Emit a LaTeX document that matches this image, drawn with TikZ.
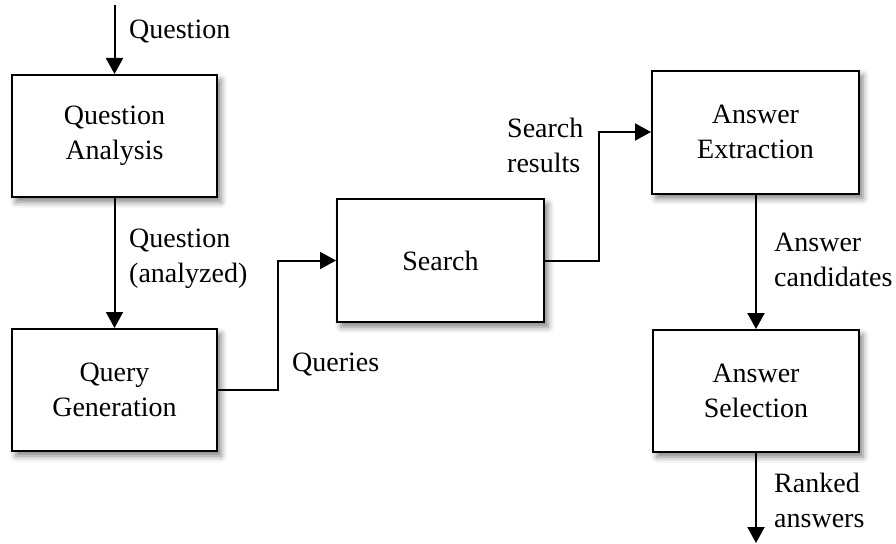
\documentclass[tikz,border=0pt]{standalone}
\usepackage{fontspec}
\setmainfont{Liberation Serif}
\usetikzlibrary{arrows.meta,shadows.blur}
\tikzset{
  box/.style={draw=black, line width=2pt, fill=white, minimum width=205pt, minimum height=122pt,
    align=center, font=\fontsize{28}{35}\selectfont,
    blur shadow={shadow xshift=4pt, shadow yshift=-5pt, shadow blur radius=6pt, shadow opacity=50}},
  lbl/.style={anchor=west, inner sep=0pt, align=left, font=\fontsize{28}{35}\selectfont},
  arr/.style={line width=2pt, -{Triangle[width=17pt,length=16pt]}}
}
\begin{document}
\begin{tikzpicture}[x=1pt,y=-1pt]
\useasboundingbox (0,0) rectangle (896,543);
\node[box] (qa) at (114.5,136) {Question\\Analysis};
\node[box] (qg) at (114.5,390) {Query\\Generation};
\node[box, minimum width=207pt, minimum height=123pt] (search) at (440.5,260.5) {Search};
\node[box, minimum width=207pt, minimum height=123pt] (ae) at (755.5,132) {Answer\\Extraction};
\node[box, minimum width=206pt] (as) at (756,391) {Answer\\Selection};
\coordinate (qin) at (114.5,5);
\coordinate (aout) at (756,543);
\draw[arr] (qin) -- (qa.north);
\draw[arr] (qa.south) -- (qg.north);
\draw[arr] (qg.east) -- ++(60,0) |- (search.west);
\draw[arr] (search.east) -- ++(54,0) |- (ae.west);
\draw[arr] (ae.south -| as.north) -- (as.north);
\draw[arr] (as.south) -- (aout);
\node[lbl] (l1) at (129,32) {Question};
\node[lbl] (l2) at (129,259) {Question\\(analyzed)};
\node[lbl] (l3) at (292,364) {Queries};
\node[lbl] (l4) at (507,145) {Search\\results};
\node[lbl] (l5) at (774,260) {Answer\\candidates};
\node[lbl] (l6) at (774,500) {Ranked\\answers};
\end{tikzpicture}
\end{document}
